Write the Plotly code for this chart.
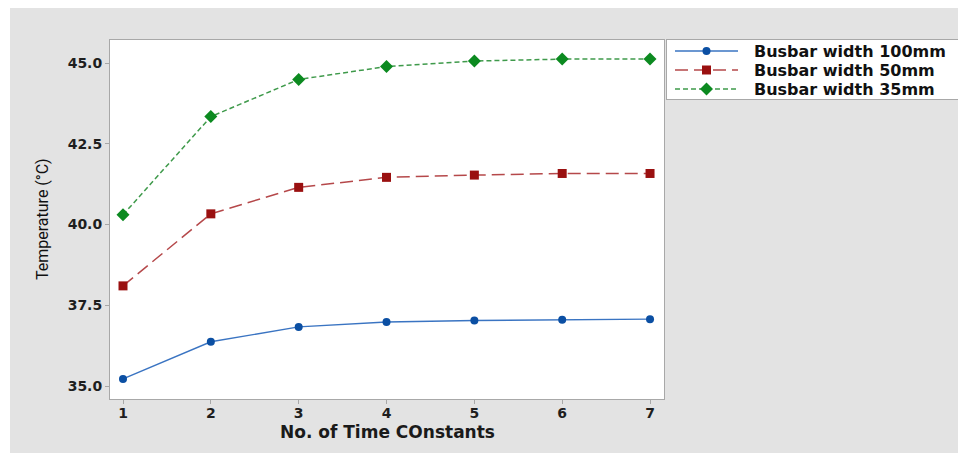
import plotly.graph_objects as go

# Temperature rise vs. number of time constants for three busbar widths
time_constants = [1, 2, 3, 4, 5, 6, 7]
temp_100mm = [35.22, 36.37, 36.83, 36.98, 37.03, 37.05, 37.07]
temp_50mm = [38.10, 40.33, 41.15, 41.46, 41.53, 41.58, 41.58]
temp_35mm = [40.30, 43.34, 44.49, 44.89, 45.06, 45.12, 45.12]
series_names = ["Busbar width 100mm", "Busbar width 50mm", "Busbar width 35mm"]
y_ticks = [35.0, 37.5, 40.0, 42.5, 45.0]

W, H = 958, 453

def px_x(p):
    return p / W

def px_y(p):
    return 1 - p / H

styles = [
    dict(line=dict(color="#3a74c2", width=1.4, dash="solid"),
         marker=dict(symbol="circle", size=8, color="#0b4fa3")),
    dict(line=dict(color="#b5484a", width=1.5, dash="13px,6px"),
         marker=dict(symbol="square", size=9, color="#9a1010")),
    dict(line=dict(color="#3f9a4b", width=1.5, dash="5px,3px"),
         marker=dict(symbol="diamond", size=10, color="#0c8a20")),
]

fig = go.Figure()
for name, vals, st in zip(series_names, [temp_100mm, temp_50mm, temp_35mm], styles):
    fig.add_trace(go.Scatter(
        x=time_constants, y=vals, name=name, mode="lines+markers",
        line=st["line"], marker=st["marker"], showlegend=False,
        xaxis="x", yaxis="y",
    ))

# Legend box drawn in its own small subplot (pixel-like coordinates)
legend_rows = [51, 70, 89]
for name, row, st in zip(series_names, legend_rows, styles):
    fig.add_trace(go.Scatter(
        x=[675, 738], y=[row, row], mode="lines", line=st["line"],
        showlegend=False, hoverinfo="skip", xaxis="x2", yaxis="y2",
    ))
    fig.add_trace(go.Scatter(
        x=[706.5], y=[row], mode="markers", marker=st["marker"],
        showlegend=False, hoverinfo="skip", xaxis="x2", yaxis="y2",
    ))

axis_font = dict(family="DejaVu Sans", size=14, color="#1e1e1e", weight="bold")
border = "#a8a8a8"

fig.update_layout(
    width=W, height=H,
    margin=dict(l=0, r=0, t=0, b=0),
    paper_bgcolor="#e3e3e3",
    plot_bgcolor="white",
    xaxis=dict(
        domain=[px_x(110), px_x(664)], range=[0.852, 7.159],
        tickmode="array", tickvals=time_constants,
        ticks="outside", ticklen=4, tickcolor=border,
        ticklabelstandoff=-3,
        showline=True, linecolor=border, linewidth=1, mirror=True,
        showgrid=False, zeroline=False, tickfont=axis_font,
    ),
    yaxis=dict(
        domain=[px_y(399), px_y(40)], range=[34.598, 45.712],
        tickmode="array", tickvals=y_ticks,
        ticktext=[f"{v:.1f}" for v in y_ticks],
        ticks="outside", ticklen=4, tickcolor=border,
        showline=True, linecolor=border, linewidth=1, mirror=True,
        showgrid=False, zeroline=False, tickfont=axis_font,
    ),
    xaxis2=dict(
        domain=[px_x(667), 1.0], range=[667, 958], anchor="y2",
        showline=True, linecolor=border, linewidth=1, mirror=True,
        showticklabels=False, ticks="", showgrid=False, zeroline=False,
    ),
    yaxis2=dict(
        domain=[px_y(99), px_y(40)], range=[99, 40], anchor="x2",
        showline=True, linecolor=border, linewidth=1, mirror=False,
        showticklabels=False, ticks="", showgrid=False, zeroline=False,
    ),
    showlegend=False,
)

annotations = [
    dict(text="No. of Time COnstants", xref="paper", yref="paper",
         x=px_x(387), y=px_y(432), xanchor="center", yanchor="middle",
         showarrow=False,
         font=dict(family="DejaVu Sans", size=17, color="#1a1a1a", weight="bold")),
    dict(text="Temperature (°C)", xref="paper", yref="paper",
         x=px_x(42), y=px_y(219), xanchor="center", yanchor="middle",
         textangle=-90, showarrow=False,
         font=dict(family="Roboto", size=16, color="#111111")),
]
for name, row in zip(series_names, legend_rows):
    annotations.append(dict(
        text=name, xref="x2", yref="y2", x=752, y=row,
        xanchor="left", yanchor="middle", showarrow=False,
        font=dict(family="DejaVu Sans", size=16, color="#111111", weight="bold"),
    ))
fig.update_layout(annotations=annotations)

# White margins around the grey panel
fig.update_layout(shapes=[
    dict(type="rect", xref="paper", yref="paper", x0=0, x1=px_x(10), y0=0, y1=1,
         fillcolor="white", line=dict(width=0), layer="below"),
    dict(type="rect", xref="paper", yref="paper", x0=0, x1=1, y0=px_y(8), y1=1,
         fillcolor="white", line=dict(width=0), layer="below"),
])

fig.write_html("out.html")
